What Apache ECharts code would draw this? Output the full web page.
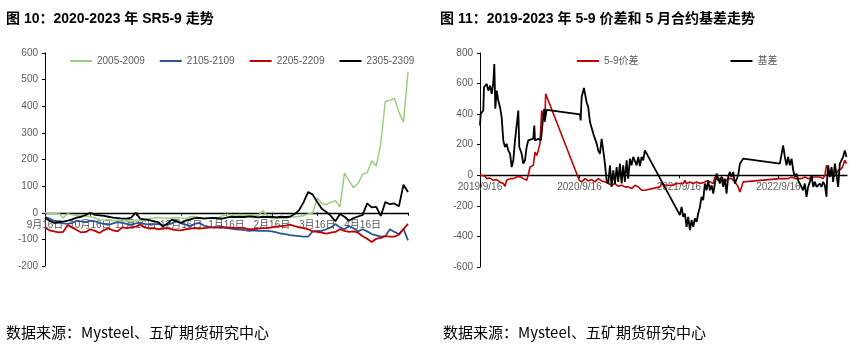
<!DOCTYPE html>
<html>
<head>
<meta charset="utf-8">
<script src="https://cdn.jsdelivr.net/npm/echarts@6/dist/echarts.min.js"></script>
<style>
  html, body { margin: 0; padding: 0; background: #fff; }
  #chart { width: 860px; height: 350px; }
</style>
</head>
<body>
<div id="chart"></div>
<script>
// ---- Left panel: SR5-9 spread by contract year, Sep 16 -> May 16 ----
const monthTickLabels = ['9月16日', '10月16日', '11月16日', '12月16日', '1月16日', '2月16日', '3月16日', '4月16日'];
const MONTH_STEP = 0.1; // samples every tenth of a month

const spread2005 = [0, -3, -4, 0, -20, -4, -8, -10, -9, -12,
  -15, -20, -26, -28, -25, -30, -28, -32, -30, -33,
  -28, -30, -25, -22, -20, -18, -20, -22, -20, -18,
  -20, -22, -15, -14, -18, -20, -22, -22, -20, -12,
  -6, -8, -8, -7, -9, -8, -8, -10, 8, -12,
  -22, -22, -20, -22, -16, -15, -14, -10, -5, -1,
  55, 35, 30, 40, 45, 22, 150, 120, 95, 110,
  145, 150, 195, 175, 260, 418, 422, 430, 378, 340,
  530];

const spread2105 = [-15, -22, -30, -35, -40, -42, -38, -30, -32, -35,
  -30, -32, -38, -42, -46, -40, -35, -38, -42, -45,
  -40, -38, -42, -45, -44, -42, -48, -45, -40, -30,
  -40, -45, -50, -42, -38, -48, -52, -55, -55, -52,
  -58, -60, -62, -63, -65, -68, -66, -68, -68, -68,
  -70, -74, -78, -80, -84, -86, -88, -90, -90, -70,
  -68, -68, -62, -55, -42, -55, -62, -50, -58, -70,
  -62, -70, -80, -85, -90, -88, -62, -72, -80, -60,
  -104];

const spread2205 = [-55, -66, -70, -74, -72, -46, -55, -65, -74, -72,
  -62, -68, -76, -65, -59, -66, -70, -55, -58, -55,
  -52, -45, -55, -60, -58, -62, -60, -58, -62, -65,
  -66, -62, -60, -58, -60, -58, -56, -55, -55, -56,
  -55, -56, -58, -56, -58, -62, -62, -60, -58, -58,
  -55, -52, -50, -48, -45, -50, -55, -58, -62, -70,
  -72, -75, -78, -75, -72, -62, -68, -72, -70, -75,
  -88, -98, -110, -98, -94, -88, -90, -90, -82, -62,
  -42];

const spread2305 = [-19, -30, -38, -35, -33, -30, -25, -18, -15, -8,
  0, -8, -10, -12, -15, -18, -20, -22, -22, -18,
  0, -23, -25, -28, -32, -35, -51, -40, -26, -32,
  -38, -30, -25, -20, -19, -22, -20, -19, -20, -22,
  -18, -15, -16, -15, -16, -14, -15, -17, -15, -16,
  -15, -17, -15, -16, -15, -5, 10, 40, 78, 68,
  40, 15, 3, -12, -32, -5, -15, -30, -20, -14,
  -8, 35, 20, 22, -12, 40, 32, 35, 24, 105,
  78];

// ---- Right panel: 5-9 spread and May-contract basis, x = years since 2019/9/16 ----
const yearTickLabels = ['2019/9/16', '2020/9/16', '2021/9/16', '2022/9/16'];

const spread59 = [[0, 0], [0.017, -11], [0.050, -5], [0.067, -22], [0.101, -18], [0.134, -33], [0.168, -28],
  [0.201, -43], [0.234, -54], [0.251, -72], [0.268, -33], [0.302, -22], [0.335, -22], [0.369, -11],
  [0.402, -8], [0.419, 0], [0.435, -22], [0.469, -33], [0.485, 0], [0.503, 54], [0.520, 43], [0.536, 65],
  [0.553, 152], [0.570, 130], [0.586, 163], [0.603, 207], [0.620, 424], [0.636, 435], [0.653, 348],
  [0.660, 533], [0.998, -33], [1.022, -43], [1.055, -22], [1.088, -37], [1.123, -28], [1.156, -43],
  [1.189, -22], [1.223, -37], [1.256, -43], [1.289, -54], [1.324, -65], [1.357, -54], [1.390, -72],
  [1.424, -65], [1.457, -76], [1.490, -76], [1.525, -87], [1.558, -65], [1.591, -76], [1.625, -98],
  [1.658, -98], [1.809, -76], [1.826, -54], [1.859, -65], [1.943, -65], [1.977, -54], [2.043, -54],
  [2.060, -33], [2.077, -54], [2.111, -43], [2.144, -54], [2.178, -43], [2.211, -54], [2.244, -48],
  [2.278, -37], [2.312, -43], [2.345, -54], [2.362, -11], [2.395, -33], [2.429, -11], [2.462, -43],
  [2.495, -22], [2.530, -22], [2.563, -43], [2.596, -76], [2.613, -109], [2.630, -76], [2.646, -43],
  [2.663, -33], [3.015, -22], [3.032, -33], [3.065, -22], [3.082, -11], [3.098, -22], [3.133, -11],
  [3.166, -22], [3.199, -22], [3.233, -22], [3.266, -11], [3.299, -22], [3.350, -11], [3.417, -11],
  [3.450, -22], [3.467, 0], [3.484, 65], [3.500, 43], [3.518, -11], [3.535, 22], [3.551, -11],
  [3.585, 11], [3.601, 33], [3.618, 22], [3.635, 43], [3.651, 65], [3.668, 98], [3.685, 76]];

const basisMay = [[0, 326], [0.007, 402], [0.033, 424], [0.040, 576], [0.067, 598], [0.083, 554],
  [0.101, 587], [0.118, 533], [0.134, 609], [0.144, 728], [0.154, 435], [0.168, 554], [0.184, 489],
  [0.201, 446], [0.218, 380], [0.234, 228], [0.251, 185], [0.268, 206], [0.284, 163], [0.302, 141],
  [0.319, 54], [0.335, 98], [0.352, 228], [0.385, 424], [0.395, 185], [0.419, 141], [0.435, 76],
  [0.452, 98], [0.469, 185], [0.485, 228], [0.503, 239], [0.536, 240], [0.546, 326], [0.553, 228],
  [0.586, 239], [0.613, 228], [0.630, 348], [0.646, 435], [0.653, 359], [0.670, 428],
  [1.005, 398], [1.012, 359], [1.022, 511], [1.045, 572], [1.072, 478], [1.088, 446], [1.106, 348],
  [1.123, 359], [1.139, 272], [1.156, 272], [1.173, 207], [1.189, 163], [1.206, 141], [1.223, 239],
  [1.239, 163], [1.256, 76], [1.273, -33], [1.289, -54], [1.307, 65], [1.323, -76], [1.340, 33],
  [1.357, -54], [1.374, 54], [1.390, -43], [1.407, 76], [1.424, -54], [1.440, 65], [1.457, -43],
  [1.474, 98], [1.490, -22], [1.508, 109], [1.524, 65], [1.541, 120], [1.575, 65], [1.591, 120],
  [1.608, 60], [1.625, 120], [1.641, 98], [1.658, 163],
  [2.010, -261], [2.027, -207], [2.043, -272], [2.060, -250], [2.077, -337], [2.093, -272],
  [2.111, -359], [2.127, -293], [2.144, -337], [2.161, -283], [2.178, -304], [2.194, -250],
  [2.211, -207], [2.228, -141], [2.244, -163], [2.261, -54], [2.278, -98], [2.294, -33], [2.312, -98],
  [2.329, -65], [2.345, -120], [2.362, -54], [2.379, 11], [2.395, 22], [2.412, -54], [2.429, -11],
  [2.445, -76], [2.462, -22], [2.479, -120], [2.495, -11], [2.513, 22], [2.529, -11], [2.546, 22],
  [2.563, -54], [2.580, -43], [2.596, 0], [2.613, 76], [2.630, 87], [2.646, 109],
  [3.015, 76], [3.032, 65], [3.048, 196], [3.065, 120], [3.082, 65], [3.098, 120], [3.116, 65],
  [3.133, 109], [3.149, 33], [3.166, -11], [3.183, 11], [3.199, -33], [3.216, -22], [3.249, -98],
  [3.266, -54], [3.283, -141], [3.299, -76], [3.317, -43], [3.334, 0], [3.350, -76], [3.367, -43],
  [3.384, -76], [3.417, -54], [3.434, -76], [3.450, -43], [3.467, -65], [3.484, -141], [3.490, -33],
  [3.500, 65], [3.518, -11], [3.535, 54], [3.551, -43], [3.568, 76], [3.585, 0], [3.601, -76],
  [3.611, 11], [3.618, 76], [3.635, 65], [3.651, 120], [3.668, 163], [3.685, 120]];

// ---- styling ----
const LATIN = '"Liberation Sans", "Noto Sans CJK SC", sans-serif';
const CJK = '"Noto Sans CJK SC", "Liberation Sans", sans-serif';
const GRAY = '#595959';

function monthPairs(vals) {
  return vals.map((v, i) => [Math.round(i * MONTH_STEP * 100) / 100, v]);
}

function lineSeries(name, data, color, width, axisIdx) {
  return {
    name, type: 'line', data,
    xAxisIndex: axisIdx, yAxisIndex: axisIdx,
    showSymbol: false, symbol: 'none', smooth: false,
    lineStyle: { color, width },
    itemStyle: { color },
    emphasis: { disabled: true },
    animation: false
  };
}

const axisLineStyle = { color: '#000', width: 1 };

const chart = echarts.init(document.getElementById('chart'), null, { renderer: 'canvas' });

chart.setOption({
  animation: false,
  backgroundColor: '#fff',
  title: [
    { text: '图 10：2020-2023 年 SR5-9 走势', left: 6, top: 12, padding: 0,
      textStyle: { fontSize: 14, fontWeight: 'bold', color: '#000', fontFamily: LATIN } },
    { text: '图 11：2019-2023 年 5-9 价差和 5 月合约基差走势', left: 440, top: 12, padding: 0,
      textStyle: { fontSize: 14, fontWeight: 'bold', color: '#000', fontFamily: LATIN } },
    { text: '数据来源：Mysteel、五矿期货研究中心', left: 6, top: 325, padding: 0,
      textStyle: { fontSize: 15, fontWeight: 'normal', color: '#000', fontFamily: CJK } },
    { text: '数据来源：Mysteel、五矿期货研究中心', left: 443, top: 325, padding: 0,
      textStyle: { fontSize: 15, fontWeight: 'normal', color: '#000', fontFamily: CJK } }
  ],
  legend: [
    { left: 70, top: 56, padding: 0, icon: 'rect', itemWidth: 22, itemHeight: 2, itemGap: 15,
      textStyle: { color: GRAY, fontSize: 10, fontFamily: LATIN },
      data: ['2005-2009', '2105-2109', '2205-2209', '2305-2309'] },
    { left: 577, top: 56, padding: 0, icon: 'rect', itemWidth: 22, itemHeight: 2, itemGap: 92,
      textStyle: { color: GRAY, fontSize: 10, fontFamily: LATIN },
      data: ['5-9价差', '基差'] }
  ],
  grid: [
    { left: 45, top: 53, width: 363, height: 213 },
    { left: 480, top: 53, width: 367, height: 214 }
  ],
  xAxis: [
    // labels sit just under the zero line, so they are pulled up from the grid bottom
    { type: 'value', gridIndex: 0, min: 0, max: 8, interval: 1,
      axisLine: { onZero: true, lineStyle: { color: '#000', width: 1.3 } },
      axisTick: { show: true, length: 3, lineStyle: axisLineStyle },
      axisLabel: { color: GRAY, fontSize: 10, fontFamily: LATIN, margin: -46,
        formatter: v => monthTickLabels[v] || '' },
      splitLine: { show: false } },
    { type: 'value', gridIndex: 1, min: 0, max: 3.69, interval: 1,
      axisLine: { onZero: true, lineStyle: { color: '#000', width: 1.3 } },
      axisTick: { show: true, length: 3, lineStyle: axisLineStyle },
      axisLabel: { color: GRAY, fontSize: 10, fontFamily: LATIN, margin: -85, showMaxLabel: false,
        formatter: v => (Number.isInteger(v) ? (yearTickLabels[v] || '') : '') },
      splitLine: { show: false } }
  ],
  yAxis: [
    { type: 'value', gridIndex: 0, min: -200, max: 600, interval: 100,
      axisLine: { show: true, onZero: false, lineStyle: axisLineStyle },
      axisTick: { show: true, length: 3, lineStyle: axisLineStyle },
      axisLabel: { color: GRAY, fontSize: 10, fontFamily: LATIN, margin: 7 },
      splitLine: { show: false } },
    { type: 'value', gridIndex: 1, min: -600, max: 800, interval: 200,
      axisLine: { show: true, onZero: false, lineStyle: axisLineStyle },
      axisTick: { show: true, length: 3, lineStyle: axisLineStyle },
      axisLabel: { color: GRAY, fontSize: 10, fontFamily: LATIN, margin: 7 },
      splitLine: { show: false } }
  ],
  series: [
    lineSeries('2005-2009', monthPairs(spread2005), '#9BCF7E', 1.5, 0),
    lineSeries('2105-2109', monthPairs(spread2105), '#2F5597', 1.8, 0),
    lineSeries('2205-2209', monthPairs(spread2205), '#C00000', 1.8, 0),
    lineSeries('2305-2309', monthPairs(spread2305), '#000000', 1.8, 0),
    lineSeries('5-9价差', spread59, '#C00000', 1.6, 1),
    lineSeries('基差', basisMay, '#000000', 1.8, 1)
  ]
});
</script>
</body>
</html>
